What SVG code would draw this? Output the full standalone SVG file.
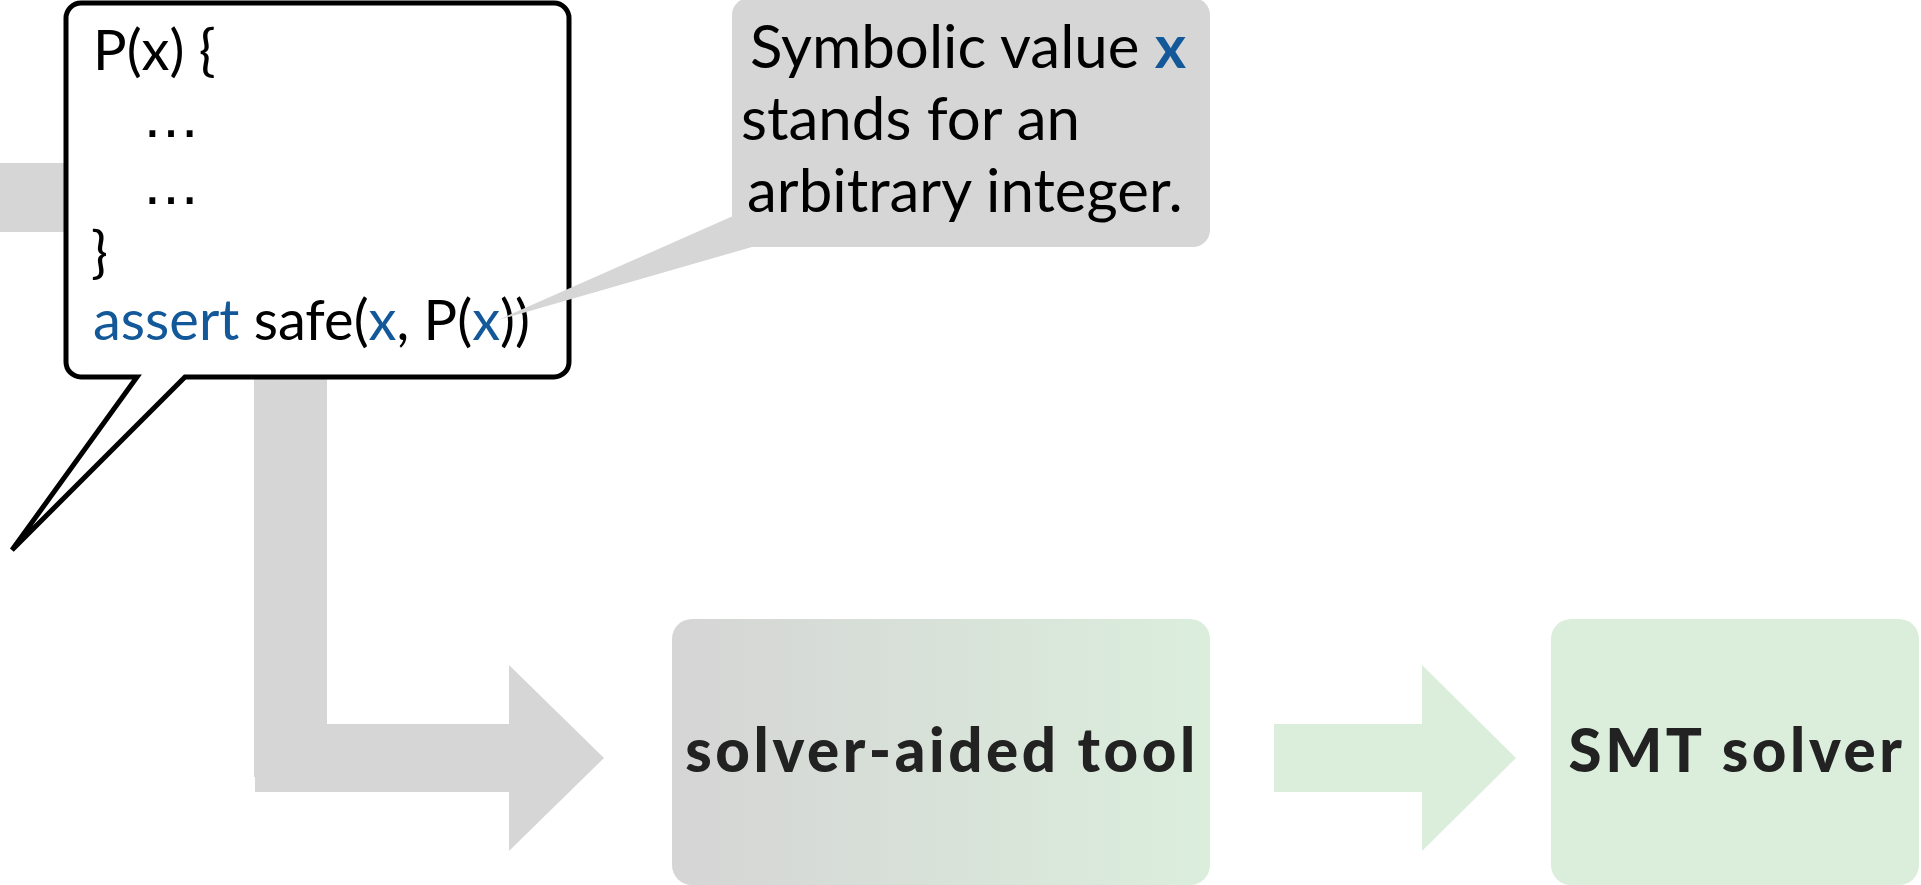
<svg xmlns="http://www.w3.org/2000/svg" width="1921" height="885" viewBox="0 0 1921 885">
  <style>
    .code { font-family: Lato, "Open Sans", "DejaVu Sans", sans-serif; font-size: 56px; fill: #000; }
    .dots { font-family: "DejaVu Sans", sans-serif; font-size: 56px; fill: #000; }
    .kw { fill: #13599a; }
    .note { font-family: Lato, "Open Sans", "DejaVu Sans", sans-serif; font-size: 60px; fill: #000; }
    .label { font-family: Lato, "Open Sans", "DejaVu Sans", sans-serif; font-size: 60px; font-weight: 900; fill: #222; text-anchor: middle; letter-spacing: 3.6px; }
  </style>
  <defs>
    <linearGradient id="toolGrad" x1="0" y1="0" x2="1" y2="0">
      <stop offset="0" stop-color="#d5d5d5"/>
      <stop offset="1" stop-color="#dbeedc"/>
    </linearGradient>
  </defs>

  <g id="connectors">
    <path id="flow-gray" d="M0,163 H327 V724 H509 V665 L604,758 L509,851 V792 H255 V777 H254 V232 H0 Z" fill="#d6d6d6"/>
    <path id="flow-green" d="M1274,724 H1422 V665 L1516,758 L1422,851 V792 H1274 Z" fill="#dbeedc"/>
  </g>

  <g id="code-callout">
    <path d="M81,3 H554 A15,15 0 0 1 569,18 V362 A15,15 0 0 1 554,377 H185 L12,550 L137,377 H81 A15,15 0 0 1 66,362 V18 A15,15 0 0 1 81,3 Z" fill="#fff" stroke="#000" stroke-width="5" stroke-linejoin="miter" stroke-miterlimit="4"/>
    <text class="code" x="93" y="70">P(x) {</text>
    <text class="dots" x="143" y="137">…</text>
    <text class="dots" x="143" y="204">…</text>
    <text class="code" x="91" y="272">}</text>
    <text class="code" x="93" y="340"><tspan class="kw">assert</tspan> safe(<tspan class="kw">x</tspan>, P(<tspan class="kw">x</tspan>))</text>
  </g>

  <g id="note-callout">
    <rect x="732" y="-2" width="478" height="249" rx="17" fill="#d6d6d6"/>
    <path d="M733,216 L498,320 L752,247 Z" fill="#d6d6d6"/>
    <text class="note" x="750" y="68">Symbolic value <tspan class="kw" font-weight="bold">x</tspan></text>
    <text class="note" x="741" y="140">stands for an</text>
    <text class="note" x="747" y="212">arbitrary integer.</text>
  </g>

  <g id="solver-aided-tool">
    <rect x="672" y="619" width="538" height="266" rx="20" fill="url(#toolGrad)"/>
    <text class="label" x="942" y="772">solver-aided tool</text>
  </g>

  <g id="smt-solver">
    <rect x="1551" y="619" width="368" height="266" rx="20" fill="#dbeedc"/>
    <text class="label" x="1737" y="772">SMT solver</text>
  </g>
</svg>
